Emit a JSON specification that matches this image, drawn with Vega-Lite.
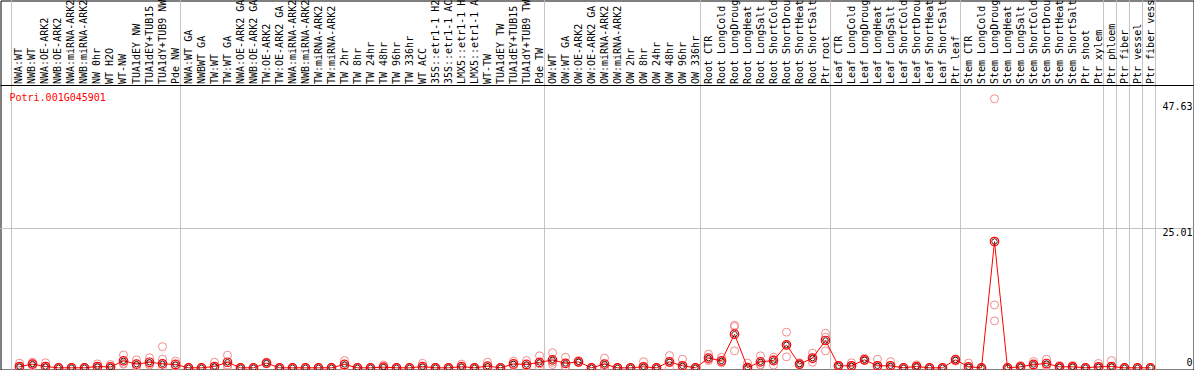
{
  "$schema": "https://vega.github.io/schema/vega-lite/v6.json",
  "width": 1193,
  "height": 369,
  "padding": 0.5,
  "autosize": {"type": "none"},
  "background": "white",
  "config": {
    "view": {"stroke": "black", "strokeWidth": 1},
    "font": "DejaVu Sans Mono",
    "axis": {"labelFont": "DejaVu Sans Mono", "labelFontSize": 10, "labelColor": "black", "titleFont": "DejaVu Sans Mono", "translate": 0}
  },
  "datasets": {
    "samples": [
      {"i": 1, "name": "NWA:WT", "mean": 0.23, "r1": 0.84, "r2": 0, "r3": 0},
      {"i": 2, "name": "NWB:WT", "mean": 0.66, "r1": 1.0, "r2": 0.7, "r3": 0.3},
      {"i": 3, "name": "NWA:OE-ARK2", "mean": 0.23, "r1": 0.9, "r2": 0, "r3": 0},
      {"i": 4, "name": "NWB:OE-ARK2", "mean": 0, "r1": 0, "r2": 0, "r3": 0},
      {"i": 5, "name": "NWA:miRNA-ARK2", "mean": 0, "r1": 0, "r2": 0, "r3": 0},
      {"i": 6, "name": "NWB:miRNA-ARK2", "mean": 0, "r1": 0, "r2": 0, "r3": 0},
      {"i": 7, "name": "NW 0hr", "mean": 0.23, "r1": 0.7, "r2": 0, "r3": 0},
      {"i": 8, "name": "WT H2O", "mean": 0.15, "r1": 0.6, "r2": 0, "r3": 0},
      {"i": 9, "name": "WT-NW", "mean": 1.25, "r1": 2.3, "r2": 0.8, "r3": 0.65},
      {"i": 10, "name": "TUA1dEY NW", "mean": 0.66, "r1": 1.43, "r2": 0.3, "r3": 0.25},
      {"i": 11, "name": "TUA1dEY+TUB15", "mean": 1.0, "r1": 1.8, "r2": 0.7, "r3": 0.5},
      {"i": 12, "name": "TUA1dY+TUB9 NW", "mean": 0.72, "r1": 3.8, "r2": 1.55, "r3": 0},
      {"i": 13, "name": "Pde NW", "mean": 0.6, "r1": 1.2, "r2": 0.3, "r3": 0.3},
      {"i": 14, "name": "NWA:WT GA", "mean": 0, "r1": 0, "r2": 0, "r3": 0},
      {"i": 15, "name": "NWBWT GA", "mean": 0, "r1": 0, "r2": 0, "r3": 0},
      {"i": 16, "name": "TW:WT", "mean": 0.23, "r1": 1.0, "r2": 0, "r3": 0},
      {"i": 17, "name": "TW:WT GA", "mean": 1.0, "r1": 2.27, "r2": 0.5, "r3": 0.2},
      {"i": 18, "name": "NWA:OE-ARK2 GA", "mean": 0, "r1": 0, "r2": 0, "r3": 0},
      {"i": 19, "name": "NWB:OE-ARK2 GA", "mean": 0, "r1": 0, "r2": 0, "r3": 0},
      {"i": 20, "name": "TW:OE-ARK2", "mean": 0.84, "r1": 1.0, "r2": 0.8, "r3": 0.7},
      {"i": 21, "name": "TW:OE-ARK2 GA", "mean": 0, "r1": 0, "r2": 0, "r3": 0},
      {"i": 22, "name": "NWA:miRNA-ARK2", "mean": 0, "r1": 0, "r2": 0, "r3": 0},
      {"i": 23, "name": "NWB:miRNA-ARK2", "mean": 0, "r1": 0, "r2": 0, "r3": 0},
      {"i": 24, "name": "TW:miRNA-ARK2", "mean": 0, "r1": 0, "r2": 0, "r3": 0},
      {"i": 25, "name": "TW:miRNA-ARK2", "mean": 0, "r1": 0, "r2": 0, "r3": 0},
      {"i": 26, "name": "TW 2hr", "mean": 0.6, "r1": 1.3, "r2": 0.3, "r3": 0.2},
      {"i": 27, "name": "TW 8hr", "mean": 0, "r1": 0, "r2": 0, "r3": 0},
      {"i": 28, "name": "TW 24hr", "mean": 0, "r1": 0, "r2": 0, "r3": 0},
      {"i": 29, "name": "TW 48hr", "mean": 0.12, "r1": 0.5, "r2": 0, "r3": 0},
      {"i": 30, "name": "TW 96hr", "mean": 0, "r1": 0, "r2": 0, "r3": 0},
      {"i": 31, "name": "TW 336hr", "mean": 0, "r1": 0, "r2": 0, "r3": 0},
      {"i": 32, "name": "WT ACC", "mean": 0.2, "r1": 0.8, "r2": 0, "r3": 0},
      {"i": 33, "name": "35S::etr1-1 H2", "mean": 0, "r1": 0, "r2": 0, "r3": 0},
      {"i": 34, "name": "35S::etr1-1 AC", "mean": 0, "r1": 0, "r2": 0, "r3": 0},
      {"i": 35, "name": "LMX5::etr1-1 H", "mean": 0.2, "r1": 0.66, "r2": 0, "r3": 0},
      {"i": 36, "name": "LMX5::etr1-1 A", "mean": 0, "r1": 0, "r2": 0, "r3": 0},
      {"i": 37, "name": "WT-TW", "mean": 0.3, "r1": 1.0, "r2": 0, "r3": 0},
      {"i": 38, "name": "TUA1dEY TW", "mean": 0, "r1": 0, "r2": 0, "r3": 0},
      {"i": 39, "name": "TUA1dEY+TUB15", "mean": 0.7, "r1": 1.2, "r2": 0.5, "r3": 0.4},
      {"i": 40, "name": "TUA1dY+TUB9 TW", "mean": 0.6, "r1": 1.3, "r2": 0.3, "r3": 0.2},
      {"i": 41, "name": "Pde TW", "mean": 0.97, "r1": 2.15, "r2": 0.7, "r3": 0.1},
      {"i": 42, "name": "OW:WT", "mean": 1.43, "r1": 2.7, "r2": 1.0, "r3": 0.6},
      {"i": 43, "name": "OW:WT GA", "mean": 0.8, "r1": 1.9, "r2": 0.3, "r3": 0.2},
      {"i": 44, "name": "OW:OE-ARK2", "mean": 1.07, "r1": 1.3, "r2": 1.0, "r3": 0.9},
      {"i": 45, "name": "OW:OE-ARK2 GA", "mean": 0, "r1": 0, "r2": 0, "r3": 0},
      {"i": 46, "name": "OW:miRNA-ARK2", "mean": 0.66, "r1": 1.74, "r2": 0.2, "r3": 0},
      {"i": 47, "name": "OW:miRNA-ARK2", "mean": 0, "r1": 0, "r2": 0, "r3": 0},
      {"i": 48, "name": "OW 2hr", "mean": 0, "r1": 0, "r2": 0, "r3": 0},
      {"i": 49, "name": "OW 8hr", "mean": 0.18, "r1": 1.1, "r2": 0, "r3": 0},
      {"i": 50, "name": "OW 24hr", "mean": 0, "r1": 0, "r2": 0, "r3": 0},
      {"i": 51, "name": "OW 48hr", "mean": 1.07, "r1": 2.2, "r2": 0.9, "r3": 0},
      {"i": 52, "name": "OW 96hr", "mean": 0.36, "r1": 1.55, "r2": 0, "r3": 0},
      {"i": 53, "name": "OW 336hr", "mean": 0, "r1": 0, "r2": 0, "r3": 0},
      {"i": 54, "name": "Root CTR", "mean": 1.74, "r1": 2.45, "r2": 1.5, "r3": 1.3},
      {"i": 55, "name": "Root LongCold", "mean": 1.25, "r1": 1.85, "r2": 1.0, "r3": 0.9},
      {"i": 56, "name": "Root LongDroug", "mean": 6.03, "r1": 7.65, "r2": 7.4, "r3": 3.04},
      {"i": 57, "name": "Root LongHeat", "mean": 0.05, "r1": 0.84, "r2": 0, "r3": 0},
      {"i": 58, "name": "Root LongSalt", "mean": 1.07, "r1": 2.15, "r2": 0.6, "r3": 0.5},
      {"i": 59, "name": "Root ShortCold", "mean": 1.3, "r1": 1.9, "r2": 1.5, "r3": 0.5},
      {"i": 60, "name": "Root ShortDrou", "mean": 4.12, "r1": 6.39, "r2": 4.0, "r3": 1.97},
      {"i": 61, "name": "Root ShortHeat", "mean": 0.66, "r1": 0.9, "r2": 0.6, "r3": 0.5},
      {"i": 62, "name": "Root ShortSalt", "mean": 1.74, "r1": 2.63, "r2": 1.6, "r3": 1.0},
      {"i": 63, "name": "Ptr root", "mean": 4.9, "r1": 6.2, "r2": 5.5, "r3": 3.04},
      {"i": 64, "name": "Leaf CTR", "mean": 0.36, "r1": 0.4, "r2": 0.4, "r3": 0.3},
      {"i": 65, "name": "Leaf LongCold", "mean": 0.36, "r1": 0.9, "r2": 0.2, "r3": 0},
      {"i": 66, "name": "Leaf LongDroug", "mean": 1.43, "r1": 1.7, "r2": 1.3, "r3": 1.3},
      {"i": 67, "name": "Leaf LongHeat", "mean": 0.36, "r1": 1.55, "r2": 0, "r3": 0},
      {"i": 68, "name": "Leaf LongSalt", "mean": 0.36, "r1": 1.1, "r2": 0, "r3": 0},
      {"i": 69, "name": "Leaf ShortCold", "mean": 0, "r1": 0, "r2": 0, "r3": 0},
      {"i": 70, "name": "Leaf ShortDrou", "mean": 0.23, "r1": 0.54, "r2": 0.1, "r3": 0},
      {"i": 71, "name": "Leaf ShortHeat", "mean": 0, "r1": 0, "r2": 0, "r3": 0},
      {"i": 72, "name": "Leaf ShortSalt", "mean": 0, "r1": 0, "r2": 0, "r3": 0},
      {"i": 73, "name": "Ptr leaf", "mean": 1.43, "r1": 1.6, "r2": 1.5, "r3": 1.2},
      {"i": 74, "name": "Stem CTR", "mean": 0.18, "r1": 0.84, "r2": 0, "r3": 0},
      {"i": 75, "name": "Stem LongCold", "mean": 0, "r1": 0, "r2": 0, "r3": 0},
      {"i": 76, "name": "Stem LongDroug", "mean": 22.67, "r1": 48.3, "r2": 11.28, "r3": 8.42},
      {"i": 77, "name": "Stem LongHeat", "mean": 0, "r1": 0, "r2": 0, "r3": 0},
      {"i": 78, "name": "Stem LongSalt", "mean": 0.18, "r1": 0.4, "r2": 0.1, "r3": 0},
      {"i": 79, "name": "Stem ShortCold", "mean": 0.6, "r1": 1.13, "r2": 0.5, "r3": 0.2},
      {"i": 80, "name": "Stem ShortDrou", "mean": 0.77, "r1": 1.55, "r2": 0.5, "r3": 0.3},
      {"i": 81, "name": "Stem ShortHeat", "mean": 0.18, "r1": 0.42, "r2": 0.1, "r3": 0},
      {"i": 82, "name": "Stem ShortSalt", "mean": 0.18, "r1": 0.42, "r2": 0.1, "r3": 0},
      {"i": 83, "name": "Ptr shoot", "mean": 0, "r1": 0, "r2": 0, "r3": 0},
      {"i": 84, "name": "Ptr xylem", "mean": 0.18, "r1": 0.78, "r2": 0, "r3": 0},
      {"i": 85, "name": "Ptr phloem", "mean": 0.23, "r1": 1.3, "r2": 0, "r3": 0},
      {"i": 86, "name": "Ptr fiber", "mean": 0, "r1": 0, "r2": 0, "r3": 0},
      {"i": 87, "name": "Ptr vessel", "mean": 0, "r1": 0, "r2": 0, "r3": 0},
      {"i": 88, "name": "Ptr fiber vess", "mean": 0, "r1": 0, "r2": 0, "r3": 0}
    ]
  },
  "data": {"name": "samples"},
  "layer": [
    {
      "transform": [{"fold": ["r1", "r2", "r3"], "as": ["rep", "value"]}],
      "mark": {"type": "point", "shape": "circle", "filled": false, "color": "#f08c8c", "size": 64, "strokeWidth": 1, "opacity": 1},
      "encoding": {
        "x": {
          "field": "i", "type": "quantitative",
          "scale": {"domain": [-0.461538, 91.307692], "nice": false, "zero": false},
          "axis": {
            "orient": "bottom", "values": [0.384615, 13.384615, 41.384615, 53.384615, 63.384615, 73.384615, 84.384615, 85.384615, 86.384615, 87.384615, 88.384615],
            "grid": true, "gridColor": "#c4c4c4", "gridWidth": 1, "labels": false, "ticks": false, "domain": false, "title": null
          }
        },
        "y": {
          "field": "value", "type": "quantitative",
          "scale": {"domain": [-0.305, 65.94], "nice": false, "zero": false},
          "axis": {
            "orient": "right", "values": [0, 25.01, 47.63], "ticks": false, "tickSize": 0, "domain": false,
            "labelAlign": "right", "labelPadding": -1,
            "labelBaseline": {"condition": {"test": "datum.value == 0", "value": "bottom"}, "value": "top"},
            "labelExpr": "datum.value == 0 ? '0' : format(datum.value, '.2f')",
            "grid": true, "gridColor": "#c4c4c4",
            "gridOpacity": {"condition": {"test": "datum.value == 25.01", "value": 1}, "value": 0},
            "title": "Potri.001G045901", "titleAngle": 0, "titleX": -1184, "titleY": 97, "titleAlign": "left", "titleBaseline": "middle",
            "titleColor": "#ff0000", "titleFontSize": 10, "titleFontWeight": "normal", "titleFont": "DejaVu Sans Mono"
          }
        }
      }
    },
    {
      "mark": {"type": "line", "color": "#ff0000", "strokeWidth": 1},
      "encoding": {
        "x": {
          "field": "i", "type": "quantitative",
          "axis": {
            "orient": "top", "offset": -85, "values": [1,2,3,4,5,6,7,8,9,10,11,12,13,14,15,16,17,18,19,20,21,22,23,24,25,26,27,28,29,30,31,32,33,34,35,36,37,38,39,40,41,42,43,44,45,46,47,48,49,50,51,52,53,54,55,56,57,58,59,60,61,62,63,64,65,66,67,68,69,70,71,72,73,74,75,76,77,78,79,80,81,82,83,84,85,86,87,88],
            "labelAngle": -90, "labelAlign": "left", "labelBaseline": "middle", "labelPadding": 1.5,
            "ticks": false, "tickSize": 0, "domain": true, "domainColor": "black", "domainWidth": 1, "grid": false, "title": null,
            "labelOverlap": false, "labelBound": false, "labelFlush": false, "labelLimit": 300,
            "labelExpr": "['NWA:WT','NWB:WT','NWA:OE-ARK2','NWB:OE-ARK2','NWA:miRNA-ARK2','NWB:miRNA-ARK2','NW 0hr','WT H2O','WT-NW','TUA1dEY NW','TUA1dEY+TUB15','TUA1dY+TUB9 NW','Pde NW','NWA:WT GA','NWBWT GA','TW:WT','TW:WT GA','NWA:OE-ARK2 GA','NWB:OE-ARK2 GA','TW:OE-ARK2','TW:OE-ARK2 GA','NWA:miRNA-ARK2','NWB:miRNA-ARK2','TW:miRNA-ARK2','TW:miRNA-ARK2','TW 2hr','TW 8hr','TW 24hr','TW 48hr','TW 96hr','TW 336hr','WT ACC','35S::etr1-1 H2','35S::etr1-1 AC','LMX5::etr1-1 H','LMX5::etr1-1 A','WT-TW','TUA1dEY TW','TUA1dEY+TUB15','TUA1dY+TUB9 TW','Pde TW','OW:WT','OW:WT GA','OW:OE-ARK2','OW:OE-ARK2 GA','OW:miRNA-ARK2','OW:miRNA-ARK2','OW 2hr','OW 8hr','OW 24hr','OW 48hr','OW 96hr','OW 336hr','Root CTR','Root LongCold','Root LongDroug','Root LongHeat','Root LongSalt','Root ShortCold','Root ShortDrou','Root ShortHeat','Root ShortSalt','Ptr root','Leaf CTR','Leaf LongCold','Leaf LongDroug','Leaf LongHeat','Leaf LongSalt','Leaf ShortCold','Leaf ShortDrou','Leaf ShortHeat','Leaf ShortSalt','Ptr leaf','Stem CTR','Stem LongCold','Stem LongDroug','Stem LongHeat','Stem LongSalt','Stem ShortCold','Stem ShortDrou','Stem ShortHeat','Stem ShortSalt','Ptr shoot','Ptr xylem','Ptr phloem','Ptr fiber','Ptr vessel','Ptr fiber vess'][datum.value - 1]"
          }
        },
        "y": {"field": "mean", "type": "quantitative"}
      }
    },
    {
      "mark": {"type": "point", "shape": "circle", "filled": false, "color": "#ff0000", "size": 72, "strokeWidth": 1.2, "opacity": 1},
      "encoding": {
        "x": {"field": "i", "type": "quantitative", "axis": null},
        "y": {"field": "mean", "type": "quantitative"}
      }
    },
    {
      "mark": {"type": "point", "shape": "circle", "filled": false, "color": "#1a0000", "size": 30, "strokeWidth": 1, "opacity": 0.85},
      "encoding": {
        "x": {"field": "i", "type": "quantitative", "axis": null},
        "y": {"field": "mean", "type": "quantitative"}
      }
    }
  ],
  "resolve": {"axis": {"x": "independent"}}
}
